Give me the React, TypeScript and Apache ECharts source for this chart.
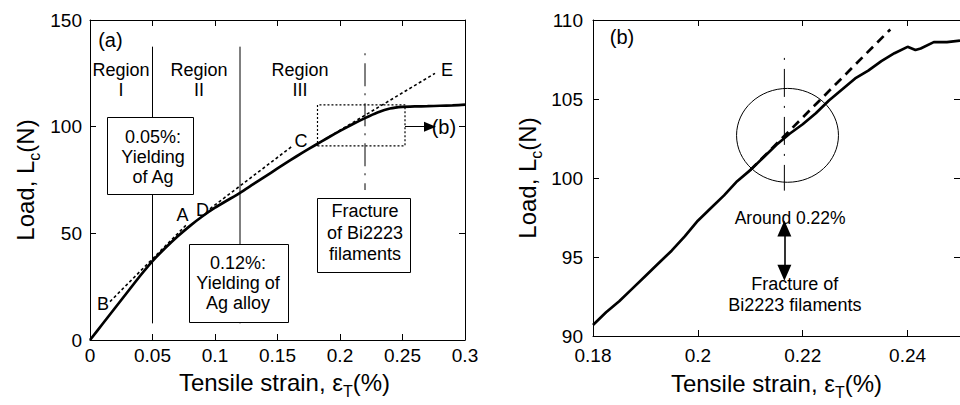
import React, { useEffect, useRef } from "react";
import * as echarts from "echarts";

const FF = '"Liberation Sans", Arial, Helvetica, sans-serif';
const INK = "#000";

// ---------- panel (a) data ----------
const strainA = [0, 0.01, 0.02, 0.03, 0.04, 0.05, 0.06, 0.07, 0.08, 0.09, 0.1, 0.11, 0.12, 0.13, 0.14, 0.15, 0.16, 0.17, 0.18, 0.19, 0.2, 0.21, 0.22, 0.23, 0.24, 0.25, 0.26, 0.27, 0.28, 0.29, 0.3];
const loadA = [0, 7.5, 15, 22.5, 30, 37, 43, 48.5, 53.5, 58, 62, 65.5, 69, 72.8, 76.6, 80.4, 84.2, 87.8, 91.3, 94.7, 98, 101.1, 104, 106.6, 108.5, 109.3, 109.5, 109.6, 109.8, 110, 110.3];
const xTicksA = ["0", "0.05", "0.1", "0.15", "0.2", "0.25", "0.3"];
const yTicksA = ["0", "50", "100", "150"];

// fitted straight lines (dotted) of panel (a)
const fitBAx = [0.016, 0.078];
const fitBAy = [18, 54.5];
const fitDCx = [0.096, 0.161];
const fitDCy = [61.5, 90.5];
const fitCEx = [0.18, 0.276];
const fitCEy = [91.3, 125];

// ---------- panel (b) data ----------
const strainB = [0.18, 0.1825, 0.185, 0.1875, 0.19, 0.1925, 0.195, 0.1975, 0.2, 0.2025, 0.205, 0.2075, 0.21, 0.2125, 0.215, 0.2175, 0.22, 0.2225, 0.225, 0.2275, 0.23, 0.2325, 0.235, 0.2375, 0.24, 0.2415, 0.2425, 0.245, 0.2475, 0.25];
const loadB = [90.7, 91.5, 92.2, 93.0, 93.8, 94.6, 95.4, 96.3, 97.3, 98.1, 98.9, 99.8, 100.5, 101.3, 102.1, 102.8, 103.4, 104.1, 104.9, 105.6, 106.3, 106.8, 107.4, 107.9, 108.3, 108.1, 108.2, 108.6, 108.6, 108.7];
const xTicksB = ["0.18", "0.2", "0.22", "0.24"];
const yTicksB = ["90", "95", "100", "105", "110"];
const fitBx = [0.21, 0.2367];
const fitBy = [100.5, 109.4];

// ---------- annotation anchors (data coordinates) ----------
const regionLinesX = [0.05, 0.12];
const regionLineSpan = [7.8, 137.5];
const fractureAX = 0.22;
const fractureASpan = [134.4, 70.3];
const zoomBoxX = [0.182, 0.252];
const zoomBoxY = [91, 110.2];
const zoomArrowX = [0.252, 0.272];
const zoomArrowY = 100;
const fractureBX = 0.2165;
const fractureBSpan = [107.6, 99.2];
const dblArrowSpan = [96.8, 94.0];

const pairs = (xs: number[], ys: number[]) => xs.map((x, i) => [x, ys[i]]);
const fmt = (labels: string[]) => (v: number) => {
  const t = labels.find((l) => Math.abs(parseFloat(l) - v) < 1e-9);
  return t ?? "";
};

const rich = {
  n: { fontSize: 24, fontFamily: FF, color: INK, lineHeight: 34 },
  s: { fontSize: 16, fontFamily: FF, color: INK, lineHeight: 16, verticalAlign: "bottom" },
};

function axis(extra: any) {
  return {
    type: "value",
    axisLine: { show: true, onZero: false, lineStyle: { color: INK, width: 1 } },
    axisTick: { show: true, inside: true, length: 6, lineStyle: { color: INK, width: 1 } },
    splitLine: { show: false },
    ...extra,
  };
}

const tickLabel = (labels: string[], margin: number, extra: any = {}) => ({
  show: true,
  fontSize: 19,
  fontFamily: FF,
  color: INK,
  margin,
  formatter: fmt(labels),
  ...extra,
});

function line(xi: number, data: any[], style: any, extra: any = {}) {
  return {
    type: "line",
    xAxisIndex: xi,
    yAxisIndex: xi,
    data,
    symbol: "none",
    showSymbol: false,
    silent: true,
    lineStyle: { color: INK, ...style },
    z: 3,
    ...extra,
  };
}

function buildOption() {
  return {
    animation: false,
    backgroundColor: "#fff",
    grid: [
      { left: 90, top: 20, width: 375, height: 320 },
      { left: 593, top: 20, width: 374.5, height: 320 },
    ],
    xAxis: [
      axis({
        gridIndex: 0, position: "bottom", min: 0, max: 0.3, interval: 0.05,
        axisLabel: tickLabel(xTicksA, 6),
        name: "{n|Tensile strain, ε}{s|T}{n|(%)}",
        nameLocation: "middle", nameGap: 25,
        nameTextStyle: { rich, padding: [0, 0, 0, 14] },
      }),
      axis({ gridIndex: 0, position: "top", min: 0, max: 0.3, interval: 0.05, axisLabel: { show: false } }),
      axis({
        gridIndex: 1, position: "bottom", min: 0.18, max: 0.25, interval: 0.02,
        axisLabel: tickLabel(xTicksB, 10, { showMaxLabel: false }),
        name: "{n|Tensile strain, ε}{s|T}{n|(%)}",
        nameLocation: "middle", nameGap: 30,
        nameTextStyle: { rich },
      }),
      axis({ gridIndex: 1, position: "top", min: 0.18, max: 0.25, interval: 0.02, axisLabel: { show: false } }),
    ],
    yAxis: [
      axis({
        gridIndex: 0, position: "left", min: 0, max: 150, interval: 50,
        axisLabel: tickLabel(yTicksA, 8),
        name: "{n|Load, L}{s|c}{n|(N)}",
        nameLocation: "middle", nameGap: 48,
        nameTextStyle: { rich },
      }),
      axis({ gridIndex: 0, position: "right", min: 0, max: 150, interval: 50, axisLabel: { show: false } }),
      axis({
        gridIndex: 1, position: "left", min: 90, max: 110, interval: 5,
        axisLabel: tickLabel(yTicksB, 10),
        name: "{n|Load, L}{s|c}{n|(N)}",
        nameLocation: "middle", nameGap: 49,
        nameTextStyle: { rich },
      }),
      axis({ gridIndex: 1, position: "right", min: 90, max: 110, interval: 5, axisLabel: { show: false } }),
    ],
    series: [
      // panel (a)
      line(0, pairs(strainA, loadA), { width: 2.7 }, { smooth: 0.15, z: 5 }),
      line(0, pairs(fitBAx, fitBAy), { width: 1.6, type: [3, 2.5] }),
      line(0, pairs(fitDCx, fitDCy), { width: 1.6, type: [3, 2.5] }),
      line(0, pairs(fitCEx, fitCEy), { width: 1.6, type: [3, 2.5] }),
      line(0, pairs([regionLinesX[0], regionLinesX[0]], regionLineSpan), { width: 1 }),
      line(0, pairs([regionLinesX[1], regionLinesX[1]], regionLineSpan), { width: 1 }),
      line(0, pairs([fractureAX, fractureAX], fractureASpan), { width: 1, type: [2, 8, 23, 7] }),
      line(
        0,
        pairs([zoomBoxX[0], zoomBoxX[1], zoomBoxX[1], zoomBoxX[0], zoomBoxX[0]], [zoomBoxY[0], zoomBoxY[0], zoomBoxY[1], zoomBoxY[1], zoomBoxY[0]]),
        { width: 1.2, type: [2, 2] },
        {
          markLine: {
            silent: true,
            animation: false,
            symbol: ["none", "triangle"],
            symbolSize: [10, 12],
            label: { show: false },
            lineStyle: { color: INK, width: 1, type: "solid" },
            data: [[{ coord: [zoomArrowX[0], zoomArrowY] }, { coord: [zoomArrowX[1], zoomArrowY] }]],
          },
        }
      ),
      // panel (b)
      line(2, pairs(strainB, loadB), { width: 2.7 }, { z: 5 }),
      line(2, pairs(fitBx, fitBy), { width: 2.7, type: [9, 6] }),
      line(
        2,
        pairs([fractureBX, fractureBX], fractureBSpan),
        { width: 1, type: [2, 9, 28, 9] },
        {
          markLine: {
            silent: true,
            animation: false,
            symbol: ["triangle", "triangle"],
            symbolSize: [14, 16],
            label: { show: false },
            lineStyle: { color: INK, width: 1.6, type: "solid" },
            data: [[{ coord: [fractureBX, dblArrowSpan[0]] }, { coord: [fractureBX, dblArrowSpan[1]] }]],
          },
        }
      ),
    ],
  };
}

function buildGraphics(chart: any) {
  const pa = (x: number, y: number) => chart.convertToPixel({ gridIndex: 0 }, [x, y]);
  const pb = (x: number, y: number) => chart.convertToPixel({ gridIndex: 1 }, [x, y]);
  const text = (p: number[], t: string, extra: any = {}) => ({
    type: "text",
    x: p[0],
    y: p[1],
    z: 100,
    silent: true,
    style: {
      text: t,
      fontSize: 18,
      fontFamily: FF,
      fill: INK,
      textAlign: "center",
      textVerticalAlign: "middle",
      lineHeight: 20,
      ...extra,
    },
  });
  const box = (a: number[], b: number[]) => ({
    type: "rect",
    z: 90,
    silent: true,
    shape: {
      x: Math.round(Math.min(a[0], b[0])) + 0.5,
      y: Math.round(Math.min(a[1], b[1])) + 0.5,
      width: Math.round(Math.abs(b[0] - a[0])),
      height: Math.round(Math.abs(b[1] - a[1])),
    },
    style: { fill: "#fff", stroke: INK, lineWidth: 1 },
  });
  const c = pb(0.2171, 102.7);
  const ex = pb(0.2171 + 0.00972, 102.7);
  const ey = pb(0.2171, 102.7 + 2.97);
  return [
    // panel (a)
    text(pa(0.0065, 140.6), "(a)", { textAlign: "left", fontSize: 20 }),
    text(pa(0.0248, 121.9), "Region\nI"),
    text(pa(0.0872, 121.9), "Region\nII"),
    text(pa(0.168, 121.9), "Region\nIII"),
    text(pa(0.2856, 126.6), "E"),
    text(pa(0.1688, 93.3), "C"),
    text(pa(0.09, 60.9), "D"),
    text(pa(0.074, 58.6), "A"),
    text(pa(0.0104, 17.1), "B"),
    box(pa(0.0136, 104.5), pa(0.0824, 68.4)),
    text(pa(0.0504, 85.8), "0.05%:\nYielding\nof Ag"),
    box(pa(0.0792, 45), pa(0.1584, 8.4)),
    text(pa(0.1184, 26.7), "0.12%:\nYielding of\nAg alloy"),
    box(pa(0.1816, 66.6), pa(0.256, 31.9)),
    text(pa(0.22, 50.2), "Fracture\nof Bi2223\nfilaments", { lineHeight: 21.5 }),
    text(pa(0.2733, 99.8), "(b)", { textAlign: "left", fontSize: 20 }),
    // panel (b)
    text(pb(0.1832, 108.9), "(b)", { textAlign: "left", fontSize: 20 }),
    {
      type: "ellipse",
      z: 80,
      silent: true,
      shape: { cx: c[0], cy: c[1], rx: Math.abs(ex[0] - c[0]), ry: Math.abs(ey[1] - c[1]) },
      style: { fill: "rgba(0,0,0,0)", stroke: INK, lineWidth: 1 },
    },
    text(pb(0.2176, 97.5), "Around 0.22%", { fontSize: 17.5 }),
    text(pb(0.2185, 92.65), "Fracture of\nBi2223 filaments", { lineHeight: 21 }),
  ];
}

export default function App() {
  const ref = useRef<HTMLDivElement>(null);
  useEffect(() => {
    const el = ref.current;
    if (!el) return;
    const chart = echarts.init(el, null, { renderer: "svg", width: 960, height: 405 });
    chart.setOption(buildOption() as any);
    chart.setOption({ graphic: buildGraphics(chart) } as any);
    return () => chart.dispose();
  }, []);
  return (
    <div
      ref={ref}
      style={{ position: "fixed", left: 0, top: 0, width: 960, height: 405, background: "#fff" }}
    />
  );
}
